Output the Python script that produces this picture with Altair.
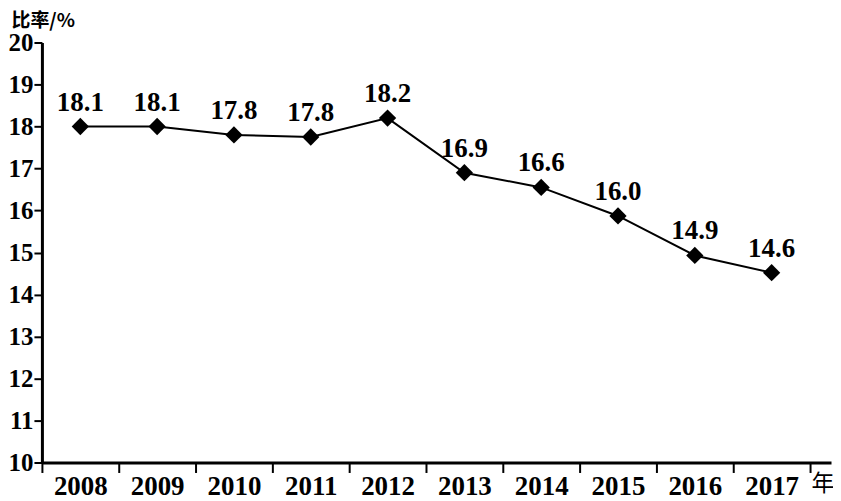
import altair as alt
import pandas as pd

years = [2008, 2009, 2010, 2011, 2012, 2013, 2014, 2015, 2016, 2017]
values = [18.0, 18.0, 17.8, 17.75, 18.2, 16.9, 16.55, 15.87, 14.93, 14.52]
labels = ["18.1", "18.1", "17.8", "17.8", "18.2", "16.9", "16.6", "16.0", "14.9", "14.6"]
y_ticks = list(range(10, 21))
x_bounds = [y - 0.5 for y in years] + [years[-1] + 0.5]

df = pd.DataFrame({"year": years, "value": values, "label": labels})

W, H = 791, 421
FONT = "Liberation Serif, Times New Roman, DejaVu Serif, serif"
CJK = "Noto Sans CJK SC"

x_enc = alt.X(
    "year:Q",
    scale=alt.Scale(domain=[2007.5, 2017.773], nice=False, zero=False),
    axis=alt.Axis(
        values=x_bounds,
        labelExpr="datum.value < 2017 ? toString(datum.value + 0.5) : ''",
        labelOffset=38.5,
        labelFlush=False,
        labelOverlap=False,
        labelBound=False,
        labelFont=FONT,
        labelFontSize=27,
        labelFontWeight="bold",
        labelColor="black",
        labelPadding=1,
        labelBaseline="top",
        tickSize=10,
        tickWidth=2,
        tickColor="black",
        domainWidth=3,
        domainColor="black",
        grid=False,
        title="年",
        titleFont=CJK,
        titleFontSize=23,
        titleFontWeight="normal",
        titleColor="black",
        titleAngle=0,
        titleAlign="right",
        titleBaseline="top",
        titleX=794,
        titleY=10,
    ),
)

y_enc = alt.Y(
    "value:Q",
    scale=alt.Scale(domain=[10, 20], nice=False, zero=False),
    axis=alt.Axis(
        values=y_ticks,
        labelFont=FONT,
        labelFontSize=25,
        labelFontWeight="bold",
        labelColor="black",
        labelPadding=1,
        tickSize=8,
        tickWidth=2,
        tickColor="black",
        domainWidth=3,
        domainColor="black",
        grid=False,
        title="比率/%",
        titleFont=CJK,
        titleFontSize=19,
        titleFontWeight="bold",
        titleColor="black",
        titleAngle=0,
        titleAlign="left",
        titleBaseline="top",
        titleX=-31,
        titleY=-31,
    ),
)

base = alt.Chart(df).encode(x=x_enc, y=y_enc)

line = base.mark_line(color="black", strokeWidth=2)
pts = base.mark_point(shape="diamond", filled=True, size=300, color="black", opacity=1)
txt = base.mark_text(dy=-16, baseline="alphabetic", font=FONT, fontSize=27,
                     fontWeight="bold", color="black").encode(text="label:N")

chart = (
    alt.layer(line, pts, txt)
    .properties(
        width=W,
        height=H,
        autosize="none",
        background="white",
        padding={"left": 34, "top": 34, "right": 2, "bottom": 38},
    )
    .configure_view(stroke=None)
)

chart.save("out.html", embed_options={"renderer": "svg", "actions": False})
